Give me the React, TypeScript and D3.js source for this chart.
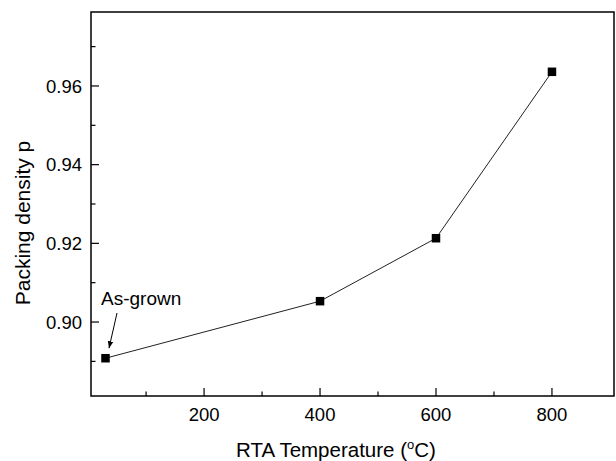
import React from "react";
import * as d3 from "d3";

const temps = [30, 400, 600, 800];
const density = [0.8908, 0.9053, 0.9213, 0.9636];
const xTicks = [200, 400, 600, 800];
const xMinor = [100, 300, 500, 700];
const yTicks = [0.90, 0.92, 0.94, 0.96];
const yMinor = [0.89, 0.91, 0.93, 0.95, 0.97];

const W = 616, H = 461;
const L = 91, R = 614, T = 12, B = 396;
const font = "'Liberation Sans', Arial, sans-serif";

export default function App() {
  const x = d3.scaleLinear().domain([5, 907]).range([L, R]);
  const y = d3.scaleLinear().domain([0.8812, 0.9788]).range([B, T]);
  const pts = temps.map((t, i) => [x(t), y(density[i])] as [number, number]);
  const line = d3.line()(pts) || "";
  const a0 = pts[0];
  return (
    <svg width={W} height={H} style={{ position: "absolute", left: 0, top: 0, background: "#fff" }}>
      <defs>
        <marker id="ah" viewBox="0 0 10 10" refX="10" refY="5" markerWidth="7" markerHeight="7" orient="auto">
          <path d="M0,1 L10,5 L0,9 Z" fill="#000" />
        </marker>
      </defs>
      <rect x={0} y={0} width={W} height={H} fill="#fff" />
      <path d={line} fill="none" stroke="#222" strokeWidth={1} />
      {pts.map((p, i) => (
        <rect key={i} x={p[0] - 4.25} y={p[1] - 4.25} width={8.5} height={8.5} fill="#000" />
      ))}
      <rect x={L} y={T} width={R - L} height={B - T} fill="none" stroke="#000" strokeWidth={1.5} />
      {xTicks.map((t) => (
        <g key={t}>
          <line x1={x(t)} x2={x(t)} y1={B} y2={B - 8} stroke="#000" strokeWidth={1.2} />
          <text x={x(t)} y={420.5} textAnchor="middle" fontFamily={font} fontSize={18.5}>{t}</text>
        </g>
      ))}
      {xMinor.map((t) => (
        <line key={t} x1={x(t)} x2={x(t)} y1={B} y2={B - 4.5} stroke="#000" strokeWidth={1.2} />
      ))}
      {yTicks.map((t) => (
        <g key={t}>
          <line x1={L} x2={L + 8} y1={y(t)} y2={y(t)} stroke="#000" strokeWidth={1.2} />
          <text x={82} y={y(t) + 6.6} textAnchor="end" fontFamily={font} fontSize={18.5}>{t.toFixed(2)}</text>
        </g>
      ))}
      {yMinor.map((t) => (
        <line key={t} x1={L} x2={L + 4.5} y1={y(t)} y2={y(t)} stroke="#000" strokeWidth={1.2} />
      ))}
      <text transform={`translate(30,223) rotate(-90)`} textAnchor="middle" fontFamily={font} fontSize={21}>
        Packing density p
      </text>
      <text x={336} y={457} textAnchor="middle" fontFamily={font} fontSize={20.5}>
        RTA Temperature (<tspan dy={-8} fontSize={13}>o</tspan><tspan dy={8}>C)</tspan>
      </text>
      <text x={101} y={305} fontFamily={font} fontSize={19}>As-grown</text>
      <line x1={117} y1={313} x2={a0[0] + 3.5} y2={a0[1] - 10} stroke="#000" strokeWidth={1} markerEnd="url(#ah)" />
    </svg>
  );
}
